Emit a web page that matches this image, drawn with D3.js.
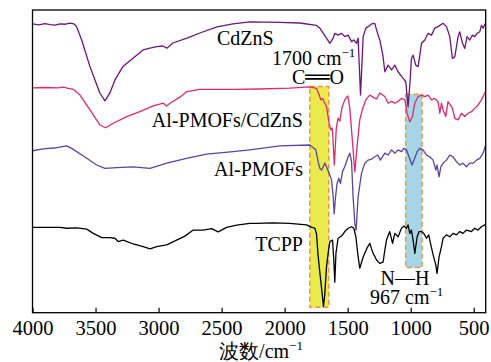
<!DOCTYPE html>
<html>
<head>
<meta charset="utf-8">
<script src="https://cdn.jsdelivr.net/npm/d3@7/dist/d3.min.js"></script>
<style>
  html, body { margin: 0; padding: 0; background: #fff; }
  svg { display: block; }
  text { font-family: "Liberation Serif", "Times New Roman", serif; fill: #000; }
</style>
</head>
<body>
<svg id="chart" width="491" height="362"></svg>
<script>
// FTIR spectra: wavenumber (cm^-1) vs. transmittance (a.u., curves offset)
const wavenumberTicks = [4000, 3500, 3000, 2500, 2000, 1500, 1000, 500];

const cdznsSpectrum = [
  [4000,95.4],[3950,95.1],[3900,95.5],[3861,95.2],[3820,95.0],[3782,95.4],[3740,95.3],[3703,95.7],[3671,95.4],
  [3650,94.5],[3610,90.1],[3544,81.3],[3465,72.5],[3425,70.0],[3386,72.6],[3346,76.9],[3283,81.3],
  [3203,84.1],[3123,86.8],[3060,87.5],[3013,87.9],[2965,88.1],[2934,87.4],[2886,89.1],[2775,90.7],
  [2672,92.4],[2537,94.4],[2410,95.4],[2276,96.1],[2038,95.9],[1879,95.7],[1747,94.9],[1721,94.0],
  [1668,90.7],[1641,89.0],[1615,90.7],[1602,92.3],[1576,91.7],[1549,92.3],[1523,91.2],[1496,91.7],
  [1469,89.5],[1451,90.1],[1430,89.0],[1417,90.7],[1398,71.9],[1377,91.2],[1356,94.0],[1338,94.5],
  [1311,95.4],[1285,95.6],[1263,92.3],[1245,90.1],[1221,85.1],[1205,79.6],[1179,81.8],[1152,80.2],
  [1126,81.8],[1100,79.6],[1060,77.4],[1039,76.3],[1021,68.0],[1007,75.2],[994,84.0],[981,85.1],
  [960,81.8],[941,81.3],[914,89.0],[888,90.1],[862,92.3],[835,91.7],[809,94.0],[783,94.5],
  [743,95.6],[716,94.5],[690,91.2],[669,84.0],[650,84.6],[624,91.2],[611,92.8],[589,89.0],
  [571,87.3],[553,91.2],[532,90.1],[510,91.7],[492,91.2],[474,92.3],[452,92.8],[439,94.9],
  [426,94.0],[407,95.6]
];

const compositeSpectrum = [
  [4000,74.3],[3900,74.4],[3800,74.3],[3756,74.5],[3716,74.1],[3677,73.8],[3623,71.9],[3544,67.0],
  [3465,62.0],[3420,61.1],[3359,62.6],[3253,64.8],[3148,66.4],[3042,68.3],[2963,69.2],[2936,68.3],
  [2910,69.2],[2831,71.2],[2778,73.0],[2672,73.8],[2410,73.8],[2196,73.9],[1959,74.2],[1800,74.6],
  [1747,74.1],[1726,71.9],[1713,70.3],[1699,70.8],[1687,69.7],[1668,68.1],[1647,62.7],[1634,60.4],
  [1623,61.0],[1618,58.7],[1606,48.8],[1590,61.0],[1576,64.3],[1562,63.3],[1546,67.6],[1523,70.3],
  [1499,71.6],[1483,67.6],[1463,57.1],[1443,46.5],[1428,53.8],[1404,63.7],[1380,67.6],[1356,70.3],
  [1325,71.9],[1301,71.3],[1271,70.6],[1245,72.6],[1205,71.4],[1179,69.2],[1152,69.8],[1126,69.2],
  [1100,69.8],[1073,70.8],[1046,70.3],[1029,65.9],[1007,63.1],[986,64.8],[968,69.2],[941,71.4],
  [914,71.9],[888,71.4],[862,71.9],[835,70.3],[809,70.8],[783,69.7],[769,65.9],[756,69.2],
  [743,67.0],[722,64.8],[704,69.7],[685,68.6],[669,67.5],[650,64.2],[624,63.7],[597,65.9],
  [571,64.8],[545,65.9],[518,66.4],[492,67.5],[466,68.6],[439,70.3],[413,72.5],[407,73.0]
];

const mofSpectrum = [
  [4000,53.5],[3914,54.1],[3808,54.5],[3729,55.1],[3689,54.3],[3570,51.0],[3491,48.8],[3425,47.7],
  [3332,47.9],[3201,48.2],[3068,47.7],[2936,49.4],[2778,51.0],[2619,52.4],[2408,53.2],[2276,53.8],
  [2038,55.1],[1800,55.4],[1753,53.8],[1734,49.9],[1721,47.7],[1707,47.1],[1694,48.2],[1681,49.4],
  [1668,48.2],[1647,46.1],[1628,43.8],[1615,38.3],[1607,32.6],[1596,38.3],[1584,42.7],[1570,44.4],
  [1557,42.7],[1541,46.6],[1523,48.2],[1496,51.5],[1483,52.7],[1469,49.9],[1457,38.3],[1443,29.5],
  [1433,27.3],[1417,38.3],[1390,46.1],[1364,49.4],[1338,50.4],[1311,50.7],[1285,51.5],[1261,52.1],
  [1241,50.4],[1205,52.7],[1179,52.1],[1152,53.8],[1126,52.7],[1100,53.8],[1073,53.2],[1055,54.3],
  [1033,53.8],[1013,51.5],[989,48.8],[968,51.0],[949,53.2],[928,54.3],[902,53.8],[875,52.1],
  [849,51.5],[822,50.4],[801,47.1],[791,48.8],[775,44.9],[761,48.2],[743,49.4],[716,50.4],
  [690,52.1],[664,51.5],[637,49.9],[611,48.8],[585,49.4],[558,48.2],[532,49.4],[505,49.4],
  [478,50.4],[452,51.0],[426,52.7],[405,55.4]
];

const tcppSpectrum = [
  [4000,28.2],[3782,28.2],[3729,27.9],[3650,28.0],[3570,27.6],[3518,26.2],[3451,24.8],[3386,24.8],
  [3346,24.6],[3320,23.5],[3280,24.0],[3201,22.7],[3122,21.8],[3068,21.1],[3015,21.8],[2936,22.4],
  [2857,24.0],[2791,25.3],[2725,27.3],[2646,27.3],[2579,27.8],[2527,26.7],[2460,28.2],[2381,28.9],
  [2276,29.5],[2223,29.5],[2091,29.7],[1959,29.5],[1826,29.0],[1787,28.3],[1760,27.9],[1747,26.0],
  [1735,19.1],[1721,13.4],[1708,8.5],[1697,4.2],[1692,2.0],[1682,5.8],[1668,15.1],[1655,19.6],
  [1641,23.5],[1620,24.0],[1610,17.4],[1602,10.1],[1593,19.6],[1576,24.6],[1557,25.1],[1541,25.7],
  [1523,26.8],[1496,27.9],[1469,28.4],[1451,27.9],[1435,25.1],[1417,18.5],[1404,14.7],[1377,18.4],
  [1346,21.4],[1324,22.9],[1303,20.1],[1271,17.4],[1245,16.3],[1219,16.7],[1205,20.7],[1192,24.0],
  [1166,26.8],[1144,22.9],[1126,26.2],[1100,25.1],[1073,27.9],[1055,28.6],[1033,27.9],[1021,29.0],
  [1007,26.2],[994,27.3],[981,24.0],[967,19.6],[949,25.1],[933,26.8],[914,26.8],[896,26.2],
  [875,24.6],[857,25.7],[843,22.9],[822,19.1],[801,15.8],[791,13.0],[775,18.4],[756,21.8],
  [743,24.6],[716,25.7],[690,25.1],[664,26.2],[637,25.7],[611,26.8],[585,26.2],[558,27.3],
  [518,26.8],[492,27.9],[466,27.3],[439,28.4],[413,29.0],[407,29.2]
];

// highlighted absorption bands: [high, low] wavenumber, [bottom, top] transmittance
const carbonylBand = { range: [1800, 1650], span: [1.8, 74.7], fill: "#e8ea4e" };
const amineBand    = { range: [1040, 910],  span: [14.9, 72.2], fill: "#a6d6e6" };

const seriesStyles = [
  { data: cdznsSpectrum,     color: "#6b1778" },
  { data: compositeSpectrum, color: "#de2a6c" },
  { data: mofSpectrum,       color: "#5a44a4" },
  { data: tcppSpectrum,      color: "#000000" }
];

const svg = d3.select("#chart");
const plot = { left: 32.5, right: 485.7, top: 10, bottom: 312.7 };

const x = d3.scaleLinear().domain([4000, 405]).range([plot.left, plot.right]);
const y = d3.scaleLinear().domain([0, 100]).range([plot.bottom, plot.top]);

// bands
[carbonylBand, amineBand].forEach(b => {
  svg.append("rect")
    .attr("x", x(b.range[0]))
    .attr("y", y(b.span[1]))
    .attr("width", x(b.range[1]) - x(b.range[0]))
    .attr("height", y(b.span[0]) - y(b.span[1]))
    .attr("fill", b.fill)
    .attr("stroke", "#f0963a")
    .attr("stroke-width", 1.5)
    .attr("stroke-dasharray", "5,3");
});

// spectra
const line = d3.line().x(d => x(d[0])).y(d => y(d[1]));
seriesStyles.forEach(s => {
  svg.append("path")
    .datum(s.data)
    .attr("d", line)
    .attr("fill", "none")
    .attr("stroke", s.color)
    .attr("stroke-width", 1.3)
    .attr("stroke-linejoin", "round");
});

// bottom axis with inward ticks
const xAxis = d3.axisBottom(x).tickValues(wavenumberTicks).tickSize(-5).tickPadding(8).tickFormat(d3.format("d"));
const gx = svg.append("g").attr("transform", `translate(0,${plot.bottom})`).call(xAxis);
gx.select(".domain").remove();
gx.selectAll(".tick line").attr("stroke", "#000").attr("stroke-width", 1.2);
gx.selectAll(".tick text")
  .attr("font-family", "'Liberation Serif', serif")
  .attr("font-size", 20.5)
  .attr("fill", "#000")
  .attr("dy", "0.72em");

// frame
svg.append("rect")
  .attr("x", plot.left).attr("y", plot.top)
  .attr("width", plot.right - plot.left).attr("height", plot.bottom - plot.top)
  .attr("fill", "none").attr("stroke", "#000").attr("stroke-width", 1.3);

// labels
function label(tx, ty, anchor, parts) {
  const t = svg.append("text").attr("x", tx).attr("y", ty)
    .attr("text-anchor", anchor).attr("font-size", 20);
  parts.forEach(p => {
    const ts = t.append("tspan").text(p.text);
    if (p.sup) ts.attr("font-size", 13).attr("dy", -8);
    if (p.family) ts.attr("font-family", p.family);
  });
  return t;
}

label(217, 45, "start", [{ text: "CdZnS" }]);
label(272, 65, "start", [{ text: "1700 cm" }, { text: "−1", sup: true }]);
label(292, 84, "start", [{ text: "C" }, { text: "═", family: "'DejaVu Sans'" }, { text: "═", family: "'DejaVu Sans'" }, { text: "O" }]);
label(303, 127, "end", [{ text: "Al-PMOFs/CdZnS" }]);
label(303, 176, "end", [{ text: "Al-PMOFs" }]);
label(303, 251, "end", [{ text: "TCPP" }]);
label(405, 285, "middle", [{ text: "N—H" }]);
label(370, 304, "start", [{ text: "967 cm" }, { text: "−1", sup: true }]);

// axis title
const title = svg.append("text").attr("x", 261).attr("y", 358).attr("text-anchor", "middle").attr("font-size", 20);
title.append("tspan").text("波数/cm");
title.append("tspan").attr("font-size", 13).attr("dy", -8).text("−1");
</script>
</body>
</html>
